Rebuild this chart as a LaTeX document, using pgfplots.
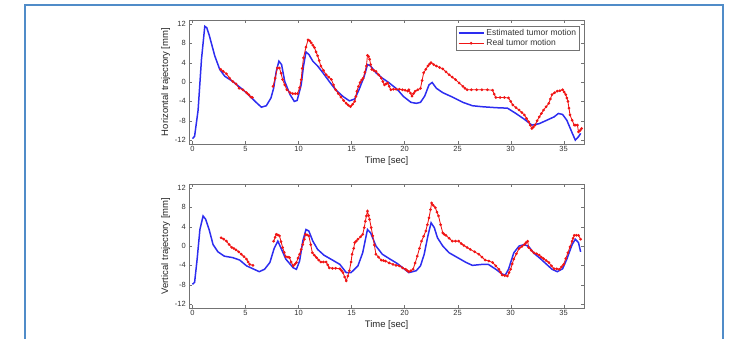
\documentclass[border=0pt]{standalone}
\usepackage{pgfplots}
\pgfplotsset{compat=1.18}
\usepackage{fontspec}
\setmainfont{Liberation Sans}
\definecolor{framec}{RGB}{80,140,200}
\definecolor{estc}{RGB}{45,45,240}
\definecolor{realc}{RGB}{240,20,20}
\pgfplotsset{
  tumor/.style={
    scale only axis, width=394.5pt, height=124pt,
    xmin=-0.3, xmax=36.9, ymin=-12.8, ymax=12.8,
    xtick={0,5,...,35}, ytick={-12,-8,-4,0,4,8,12},
    tick align=inside, tick pos=both, major tick length=3pt,
    axis line style={black!55}, tick style={black!55},
    ticklabel style={font=\fontsize{7.5}{8}\selectfont, text=black!80},
    xticklabel style={yshift=1pt},
    /pgf/number format/assume math mode=true,
    label style={font=\fontsize{9.5}{10}\selectfont, text=black!85},
    xlabel={Time [sec]}, xlabel style={yshift=2pt},
    ylabel style={yshift=-2pt},
    anchor=south west,
  },
  est/.style={color=estc, line width=1.5pt, no markers},
  real/.style={color=realc, line width=0.85pt, mark=*, mark size=0.9pt},
}
\begin{document}
\begin{tikzpicture}[x=1pt,y=1pt]
\useasboundingbox (0,0) rectangle (734,338);
\draw[framec, line width=2pt] (25,-2) -- (25,332.5) -- (722.7,332.5) -- (722.7,-2);
% top axis
\begin{axis}[tumor, at={(189.3pt,194pt)}, ylabel={Horizontal trajectory [mm]},
  legend style={at={(rel axis cs:0.99,0.955)}, anchor=north east, draw=black!55,
    font=\fontsize{8.5}{9}\selectfont, inner sep=1.5pt, row sep=-1.5pt, text=black!80},
  legend cell align=left,
  legend image code/.code={\draw[mark repeat=2,mark phase=2] plot coordinates {(0pt,0pt) (12.5pt,0pt) (25pt,0pt)};}]
\addplot[est] coordinates {
(0,-11.7) (0.2,-11.2) (0.53,-5.8) (0.85,4.7) (1.16,11.5) (1.35,11.2) (1.6,9.5) (2.1,5.4) (2.57,2.6) (3.04,1.2) (3.8,0.1) (4.76,-1.6) (5.4,-2.9) (6.0,-4.2) (6.5,-5.2) (6.96,-4.9) (7.4,-3.3) (7.65,-1.3) (7.9,2.2) (8.15,4.3) (8.4,3.6) (8.7,0.1) (9.2,-2.6) (9.6,-4.0) (9.87,-3.8) (10.25,-0.6) (10.47,3.3) (10.7,6.2) (10.97,5.7) (11.35,4.3) (11.8,3.3) (12.3,1.9) (12.9,0.1) (13.5,-1.6) (14.2,-3.0) (14.8,-3.9) (15.3,-3.5) (15.7,-1.6) (16.2,1.2) (16.5,3.6) (16.8,3.3) (17.3,1.9) (17.9,0.8) (18.5,-0.1) (19.3,-1.5) (19.9,-3.0) (20.6,-4.2) (21.1,-4.4) (21.5,-4.2) (21.9,-2.9) (22.3,-0.6) (22.6,-0.1) (23.0,-1.3) (23.6,-2.2) (24.5,-3.1) (25.5,-4.2) (26.4,-4.9) (27.3,-5.1) (28.6,-5.3) (29.7,-5.4) (30.5,-6.5) (31.3,-7.7) (32.0,-8.9) (32.7,-8.6) (33.4,-7.9) (34.1,-7.2) (34.5,-6.5) (34.9,-6.7) (35.3,-7.9) (35.8,-10.5) (36.1,-12.0) (36.4,-11.3) (36.6,-10.6)
};
\addlegendentry{Estimated tumor motion}
\addplot[real] coordinates {
(2.67,2.6) (2.9,2.2) (3.2,1.7) (3.5,0.8) (3.8,0.1) (4.1,-0.4) (4.4,-1.3) (4.75,-1.6) (5.1,-2.2) (5.3,-2.6) (5.5,-3.1) (5.65,-3.2)
};
\addlegendentry{Real tumor motion}
\addplot[real, forget plot] coordinates {
(7.6,-0.9) (7.8,0.8) (8.0,2.9) (8.2,2.9) (8.35,1.8) (8.5,0.5) (8.7,-0.6) (8.9,-1.6) (9.2,-2.2) (9.45,-2.4) (9.7,-2.4) (9.9,-2.4) (10.1,-1.2) (10.25,0.5) (10.35,2.8) (10.47,5.0) (10.7,7.2) (10.9,8.7) (11.05,8.5) (11.2,8.1) (11.35,7.6) (11.5,7.1) (11.65,6.2) (11.8,5.4) (11.95,4.4) (12.1,3.3) (12.35,2.4) (12.6,1.5) (12.85,1.0) (13.1,0.5) (13.3,-0.6) (13.5,-1.6) (13.75,-2.4) (14.0,-3.1) (14.25,-3.8) (14.5,-4.4) (14.7,-4.8) (14.9,-5.1) (15.1,-4.6) (15.3,-4.0) (15.4,-3.0) (15.5,-1.9) (15.65,-0.9) (15.8,-0.1) (15.95,0.4) (16.1,0.8) (16.25,2.0) (16.4,3.3) (16.5,5.5) (16.6,5.3) (16.7,4.7) (16.8,3.6) (16.9,2.6) (17.1,2.4) (17.3,2.2) (17.55,1.5) (17.8,0.8) (17.95,0.1) (18.1,-0.6) (18.25,-0.4) (18.4,-0.2) (18.55,-0.9) (18.7,-1.6) (18.95,-1.5) (19.2,-1.5) (19.5,-1.5) (19.8,-1.6) (20.05,-1.7) (20.3,-1.9) (20.4,-1.6) (20.55,-2.3) (20.7,-2.9) (20.85,-2.4) (21.0,-1.9) (21.25,-1.6) (21.5,-1.3) (21.65,0.3) (21.8,1.9) (22.0,2.6) (22.2,3.3) (22.35,3.7) (22.5,4.0) (22.75,3.6) (23.0,3.3) (23.3,3.0) (23.6,2.7) (23.9,2.1) (24.2,1.5) (24.5,1.0) (24.8,0.5) (25.15,-0.2) (25.5,-0.9) (25.7,-1.3) (25.9,-1.6) (26.3,-1.6) (26.8,-1.6) (27.3,-1.6) (27.8,-1.6) (28.3,-1.7) (28.45,-2.5) (28.6,-3.2) (29.0,-3.2) (29.4,-3.2) (29.8,-3.3) (30.0,-4.0) (30.2,-4.7) (30.5,-5.3) (30.8,-5.8) (31.05,-6.3) (31.3,-6.8) (31.5,-7.5) (31.7,-8.2) (31.85,-8.9) (32.0,-9.6) (32.15,-9.3) (32.3,-8.9) (32.5,-8.0) (32.7,-7.2) (32.9,-6.5) (33.1,-5.8) (33.35,-5.1) (33.6,-4.4) (33.75,-3.5) (33.9,-2.6) (34.15,-2.2) (34.4,-1.9) (34.65,-1.8) (34.9,-1.6) (35.05,-2.1) (35.2,-2.6) (35.3,-3.3) (35.4,-4.0) (35.5,-5.4) (35.6,-6.8) (35.8,-7.9) (36.0,-8.9) (36.15,-8.9) (36.3,-8.9) (36.4,-10.3) (36.55,-10.0) (36.7,-9.6)
};
\end{axis}
% bottom axis
\begin{axis}[tumor, at={(189.3pt,30pt)}, ylabel={Vertical trajectory [mm]}]
\addplot[est] coordinates {
(0,-7.9) (0.2,-7.5) (0.44,-2.7) (0.7,3.4) (1.0,6.2) (1.25,5.5) (1.57,3.4) (1.94,0.3) (2.4,-1.2) (3.0,-2.1) (3.8,-2.4) (4.45,-2.9) (5.1,-4.1) (5.7,-4.7) (6.3,-5.3) (6.8,-4.8) (7.3,-3.4) (7.7,-0.5) (8.05,1.0) (8.4,-0.7) (8.8,-2.7) (9.5,-4.5) (9.8,-4.8) (10.1,-3.1) (10.4,1.0) (10.7,3.4) (10.97,3.1) (11.35,1.0) (11.8,-0.7) (12.4,-1.9) (13.2,-2.9) (13.9,-3.8) (14.5,-5.5) (14.95,-5.5) (15.6,-4.1) (16.05,-1.4) (16.5,3.4) (16.8,2.7) (17.3,0) (17.9,-1.7) (18.55,-2.6) (19.3,-3.6) (20.0,-4.8) (20.4,-5.5) (21.1,-5.1) (21.5,-4.1) (21.85,-1.7) (22.2,2.1) (22.5,4.8) (22.8,3.8) (23.1,1.7) (23.6,0) (24.2,-1.4) (25.0,-2.4) (25.8,-3.4) (26.4,-4.0) (27.3,-3.8) (27.9,-3.8) (28.6,-4.8) (29.2,-5.8) (29.5,-6.0) (29.8,-4.8) (30.3,-1.4) (30.8,0) (31.3,0.3) (31.7,-0.1) (32.2,-1.5) (32.8,-2.6) (33.4,-3.8) (33.9,-4.8) (34.4,-5.3) (34.9,-4.7) (35.3,-2.7) (35.8,0.3) (36.1,1.4) (36.4,0.7) (36.6,-1.2)
};
\addplot[real] coordinates {
(2.7,1.7) (2.95,1.4) (3.2,1.0) (3.45,0.3) (3.7,-0.3) (3.9,-0.5) (4.1,-0.8) (4.35,-1.2) (4.6,-1.7) (4.85,-2.2) (5.1,-2.7) (5.25,-3.3) (5.4,-3.8) (5.7,-4.0)
};
\addplot[real] coordinates {
(7.65,1.0) (7.8,1.8) (7.9,2.4) (8.05,2.3) (8.2,2.1) (8.35,0.9) (8.5,-0.3) (8.65,-1.3) (8.8,-2.2) (9.0,-2.3) (9.15,-2.4) (9.3,-3.3) (9.5,-4.1) (9.65,-3.8) (9.8,-3.4) (9.95,-2.5) (10.1,-1.7) (10.25,-0.7) (10.4,0.3) (10.55,1.4) (10.66,2.4) (10.8,2.3) (10.97,2.1) (11.15,0.3) (11.3,-1.4) (11.5,-1.9) (11.7,-2.4) (11.9,-2.9) (12.1,-3.3) (12.35,-3.3) (12.6,-3.3) (12.75,-3.9) (12.9,-4.5) (13.2,-4.6) (13.5,-4.6) (13.9,-4.7) (14.05,-5.1) (14.2,-5.5) (14.35,-6.4) (14.5,-7.2) (14.65,-6.2) (14.8,-5.1) (14.95,-3.3) (15.05,-1.7) (15.2,-0.5) (15.3,0.7) (15.45,1.0) (15.6,1.4) (15.85,1.9) (16.05,2.4) (16.2,3.8) (16.3,5.1) (16.4,6.2) (16.5,7.2) (16.6,6.3) (16.7,5.5) (16.85,3.8) (17.0,2.1) (17.15,0.2) (17.3,-1.7) (17.55,-2.3) (17.8,-2.9) (18.0,-3.0) (18.2,-3.1) (18.55,-3.5) (18.9,-3.8) (19.2,-4.0) (19.5,-4.1) (19.8,-4.5) (20.1,-4.8) (20.25,-5.1) (20.4,-5.3) (20.6,-5.1) (20.8,-4.8) (21.0,-3.5) (21.2,-2.1) (21.4,-0.5) (21.6,1.0) (21.8,2.0) (22.0,3.1) (22.15,4.4) (22.3,5.8) (22.45,7.5) (22.55,8.9) (22.7,8.4) (22.9,7.9) (23.05,7.0) (23.2,6.2) (23.4,4.4) (23.6,2.7) (23.75,2.4) (23.9,2.2) (24.2,1.6) (24.5,1.0) (24.8,1.0) (25.1,1.0) (25.35,0.5) (25.6,0.1) (25.9,-0.3) (26.2,-0.7) (26.6,-1.2) (27.0,-1.7) (27.3,-2.3) (27.6,-2.9) (27.95,-3.1) (28.3,-3.4) (28.6,-4.1) (28.9,-4.8) (29.05,-5.4) (29.2,-6.0) (29.45,-6.1) (29.7,-6.2) (29.85,-5.5) (30.0,-4.8) (30.15,-3.7) (30.3,-2.7) (30.55,-1.6) (30.8,-0.5) (31.05,-0.1) (31.3,0.3) (31.45,0.7) (31.6,1.0) (31.7,-0.3) (31.95,-0.9) (32.2,-1.4) (32.45,-1.6) (32.7,-1.9) (32.9,-2.3) (33.1,-2.6) (33.35,-3.0) (33.6,-3.4) (33.85,-4.1) (34.1,-4.7) (34.35,-4.7) (34.6,-4.8) (34.8,-4.3) (35.0,-3.8) (35.2,-2.6) (35.4,-1.4) (35.6,-0.2) (35.8,1.0) (35.9,1.6) (36.0,2.2) (36.2,2.2) (36.4,2.2) (36.6,1.4)
};
\end{axis}
\end{tikzpicture}
\end{document}
